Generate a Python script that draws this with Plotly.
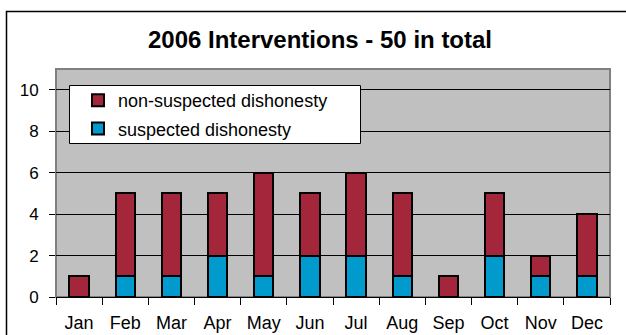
import plotly.graph_objects as go

months = ["Jan", "Feb", "Mar", "Apr", "May", "Jun", "Jul", "Aug", "Sep", "Oct", "Nov", "Dec"]
suspected = [0, 1, 1, 2, 1, 2, 2, 1, 0, 2, 1, 1]
non_suspected = [1, 4, 4, 3, 5, 3, 4, 4, 1, 3, 1, 3]
y_ticks = [0, 2, 4, 6, 8, 10]

RED = "#A3263A"
BLUE = "#009ACC"
FONT = "Arial, Liberation Sans, sans-serif"

W, H = 626, 335
L, R, T, B = 56, 16, 69, 38
pw, ph = W - L - R, H - T - B

def px_x(x):
    return (x - L) / pw

def px_y(y):
    return (H - B - y) / ph

fig = go.Figure()
fig.add_trace(go.Bar(x=months, y=suspected, name="suspected dishonesty",
                     marker=dict(color=BLUE, line=dict(color="black", width=2)),
                     legendgroup="s", legendrank=2))
fig.add_trace(go.Bar(x=months, y=non_suspected, name="non-suspected dishonesty",
                     marker=dict(color=RED, line=dict(color="black", width=2)),
                     legendgroup="n", legendrank=1))

shapes = [
    # outer chart border
    dict(type="rect", xref="paper", yref="paper",
         x0=px_x(6.5), x1=px_x(640), y0=px_y(345), y1=px_y(11.5),
         line=dict(color="#000000", width=1.5), fillcolor="rgba(0,0,0,0)", layer="above"),
    # plot area border
    dict(type="rect", xref="paper", yref="paper", x0=0, x1=1, y0=0, y1=1,
         line=dict(color="#808080", width=2), fillcolor="rgba(0,0,0,0)", layer="below"),
    # legend box
    dict(type="rect", xref="paper", yref="paper",
         x0=px_x(69.5), x1=px_x(360.5), y0=px_y(143.5), y1=px_y(85.5),
         line=dict(color="#000000", width=1), fillcolor="white", layer="above"),
]

fig.update_layout(
    width=W, height=H,
    margin=dict(l=L, r=R, t=T, b=B, pad=0),
    paper_bgcolor="white",
    plot_bgcolor="#C0C0C0",
    barmode="stack",
    bargap=0.58,
    font=dict(family=FONT, size=17, color="black"),
    title=dict(text="<b>2006 Interventions - 50 in total</b>", x=320 / W, xanchor="center",
               y=1 - 40 / H, yanchor="middle", font=dict(family=FONT, size=24, color="black"),
               automargin=False),
    showlegend=True,
    legend=dict(x=px_x(78), y=px_y(82), xanchor="left", yanchor="top",
                bgcolor="rgba(0,0,0,0)", borderwidth=0, traceorder="grouped",
                tracegroupgap=2, font=dict(family=FONT, size=18, color="black")),
    shapes=shapes,
    xaxis=dict(type="category", tickson="boundaries", ticks="outside", ticklen=7,
               tickcolor="black", showline=True, linecolor="black", linewidth=1,
               showgrid=False, ticklabelstandoff=9, tickfont=dict(size=18),
               automargin=False),
    yaxis=dict(range=[0, 11], tickvals=y_ticks, ticks="outside", ticklen=6,
               tickcolor="black", showgrid=True, gridcolor="black", gridwidth=1,
               showline=False, zeroline=False, ticklabelstandoff=7, tickfont=dict(size=17),
               automargin=False),
)

fig.write_html("out.html")
